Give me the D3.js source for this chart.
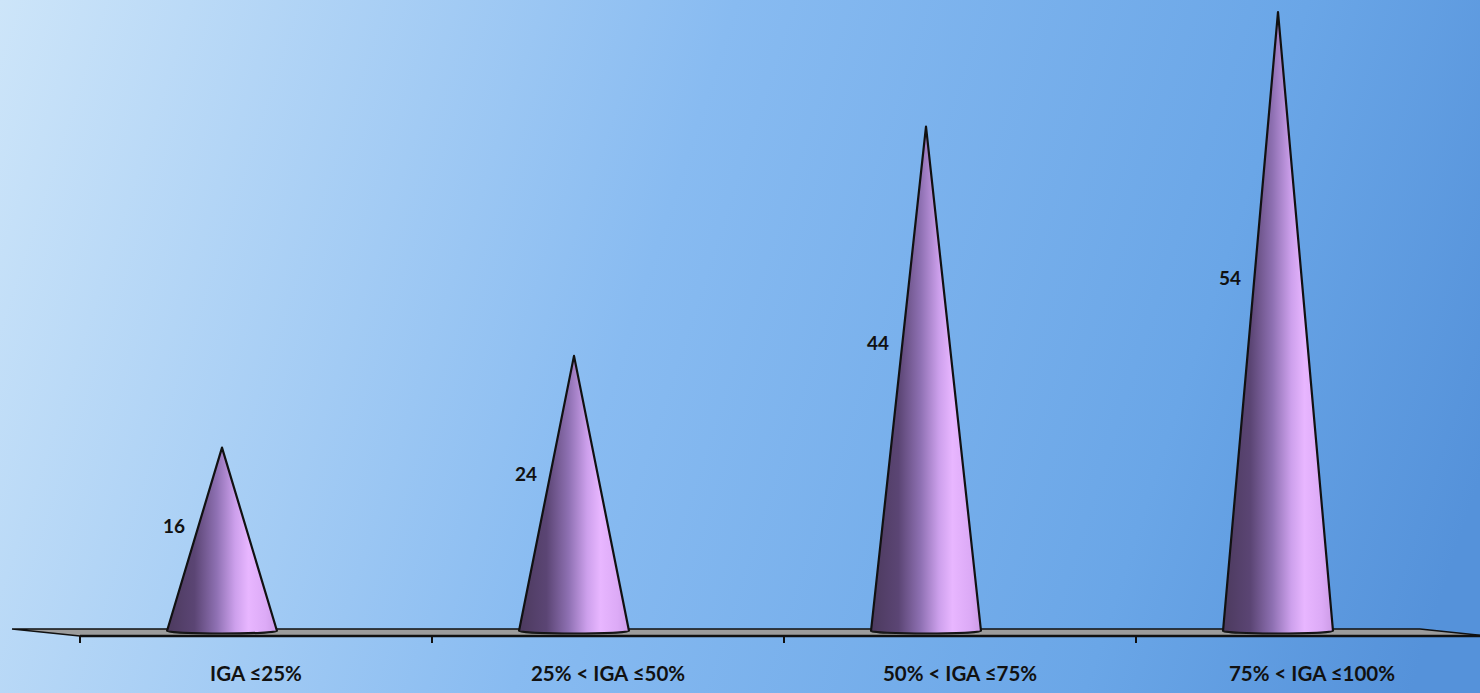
<!DOCTYPE html>
<html>
<head>
<meta charset="utf-8">
<script src="https://cdn.jsdelivr.net/npm/d3@7"></script>
<style>
  html, body { margin: 0; padding: 0; overflow: hidden; }
  svg { display: block; }
</style>
</head>
<body>
<svg id="chart" width="1480" height="693"></svg>
<script>
// IGA bands and their counts
const categories = ["IGA \u226425%", "25% < IGA \u226450%", "50% < IGA \u226475%", "75% < IGA \u2264100%"];
const values = [16, 24, 44, 54];

const W = 1480, H = 693;
const svg = d3.select("#chart");
const defs = svg.append("defs");

// background wash
const bg = defs.append("linearGradient").attr("id", "bg")
  .attr("gradientUnits", "userSpaceOnUse")
  .attr("x1", 0).attr("y1", 0).attr("x2", W).attr("y2", 480);
bg.append("stop").attr("offset", 0).attr("stop-color", "#cde5f9");
bg.append("stop").attr("offset", 0.45).attr("stop-color", "#88bbf1");
bg.append("stop").attr("offset", 0.8).attr("stop-color", "#6aa6e7");
bg.append("stop").attr("offset", 1).attr("stop-color", "#5592da");
svg.append("rect").attr("width", W).attr("height", H).attr("fill", "url(#bg)");

// cone shading, dark on the left, highlight on the right
const cg = defs.append("linearGradient").attr("id", "cone")
  .attr("x1", 0).attr("y1", 0).attr("x2", 1).attr("y2", 0);
[[0, "#4c3a5e"], [0.25, "#5b4574"], [0.45, "#8e70b2"], [0.62, "#cda0ec"],
 [0.74, "#e8b6ff"], [0.9, "#dcaaf6"], [1, "#cc9be6"]]
  .forEach(([o, c]) => cg.append("stop").attr("offset", o).attr("stop-color", c));

// scales
const depth = 34;               // half the floor depth offset
const baseY = 631;              // floor level under the cones
const frontY = 636;             // front edge of floor / axis line
const x = d3.scaleBand().domain(categories).range([80, 1488]).padding(0);
const y = d3.scaleLinear().domain([0, 54]).range([baseY, 12]);
const bw = x.bandwidth();
const rx = 55, ry = 2.5;

// floor plane, seen almost edge-on
const x0 = x.range()[0], x1 = x.range()[1];
svg.append("path")
  .attr("d", `M${x0 - 2 * depth},${frontY - 7} L${x1 - 2 * depth},${frontY - 7} L${x1},${frontY} L${x0},${frontY} Z`)
  .attr("fill", "#9c9c9c").attr("stroke", "#111").attr("stroke-width", 1.5);
svg.append("line")
  .attr("x1", x0).attr("x2", x1).attr("y1", frontY).attr("y2", frontY)
  .attr("stroke", "#111").attr("stroke-width", 2.4);

// category axis with ticks at band boundaries
const axis = d3.axisBottom(x).tickSize(0).tickFormat(d => d);
const gAxis = svg.append("g").attr("transform", `translate(0,${frontY})`).call(axis);
gAxis.select(".domain").remove();
gAxis.selectAll("text")
  .attr("dy", 0).attr("y", 45)
  .attr("font-family", "Lato, 'Open Sans', sans-serif")
  .attr("font-weight", "bold").attr("font-size", 20.5).attr("fill", "#111");
svg.append("g").selectAll("line")
  .data(categories).join("line")
  .attr("x1", d => x(d)).attr("x2", d => x(d))
  .attr("y1", frontY).attr("y2", frontY + 7)
  .attr("stroke", "#111").attr("stroke-width", 2);

// cones
const cx = d => x(d) + bw / 2 - depth;
const cones = svg.append("g");
categories.forEach((c, i) => {
  const xc = cx(c), tip = y(values[i]);
  cones.append("path")
    .attr("d", `M${xc - rx},${baseY} L${xc},${tip} L${xc + rx},${baseY} A${rx},${ry} 0 0 1 ${xc - rx},${baseY} Z`)
    .attr("fill", "url(#cone)")
    .attr("stroke", "#111").attr("stroke-width", 2.2).attr("stroke-linejoin", "round");
  cones.append("path")
    .attr("d", `M${xc - rx},${baseY} A${rx},${ry} 0 0 0 ${xc + rx},${baseY}`)
    .attr("fill", "none").attr("stroke", "#222").attr("stroke-width", 0.8).attr("opacity", 0.7);
});

// value labels beside each cone
svg.append("g").selectAll("text")
  .data(values).join("text")
  .attr("x", (d, i) => cx(categories[i]) - 48)
  .attr("y", d => y(d * 0.57))
  .attr("dy", "0.35em")
  .attr("text-anchor", "middle")
  .attr("font-family", "Lato, 'Open Sans', sans-serif")
  .attr("font-weight", "bold").attr("font-size", 19).attr("fill", "#111")
  .text(d => d);
</script>
</body>
</html>
